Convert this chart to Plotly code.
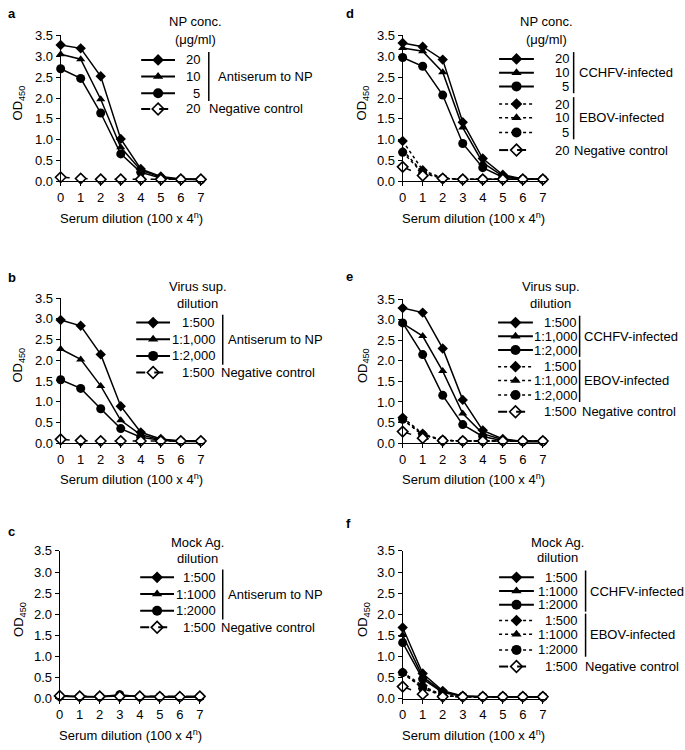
import plotly.graph_objects as go

W, H = 685, 750
FONT = "Liberation Sans, Arial, Helvetica, sans-serif"

# ---------------- data ----------------
dilution = [0, 1, 2, 3, 4, 5, 6, 7]

a_np20 = [3.27, 3.19, 2.52, 1.02, 0.30, 0.12, 0.06, 0.05]
a_np10 = [3.05, 2.93, 1.97, 0.82, 0.27, 0.10, 0.05, 0.05]
a_np5 = [2.70, 2.47, 1.64, 0.66, 0.22, 0.08, 0.05, 0.04]
a_neg = [0.10, 0.07, 0.05, 0.05, 0.05, 0.05, 0.05, 0.05]

b_500 = [2.97, 2.83, 2.14, 0.89, 0.26, 0.10, 0.05, 0.05]
b_1000 = [2.27, 2.02, 1.38, 0.55, 0.20, 0.08, 0.05, 0.05]
b_2000 = [1.53, 1.32, 0.83, 0.35, 0.14, 0.07, 0.04, 0.04]
b_neg = [0.09, 0.06, 0.05, 0.05, 0.05, 0.05, 0.05, 0.05]

c_500 = [0.07, 0.05, 0.05, 0.07, 0.06, 0.05, 0.05, 0.05]
c_1000 = [0.06, 0.05, 0.05, 0.08, 0.05, 0.05, 0.04, 0.05]
c_2000 = [0.06, 0.05, 0.05, 0.10, 0.05, 0.05, 0.04, 0.05]
c_neg = [0.07, 0.06, 0.06, 0.06, 0.06, 0.05, 0.05, 0.06]

d_cchf20 = [3.32, 3.23, 2.92, 1.42, 0.55, 0.16, 0.06, 0.05]
d_cchf10 = [3.20, 3.12, 2.62, 1.29, 0.45, 0.13, 0.06, 0.05]
d_cchf5 = [2.97, 2.76, 2.07, 0.91, 0.33, 0.10, 0.05, 0.05]
d_ebov20 = [0.97, 0.27, 0.08, 0.05, 0.05, 0.05, 0.05, 0.05]
d_ebov10 = [0.75, 0.22, 0.08, 0.05, 0.05, 0.05, 0.05, 0.05]
d_ebov5 = [0.70, 0.20, 0.07, 0.05, 0.05, 0.05, 0.05, 0.05]
d_neg = [0.35, 0.14, 0.07, 0.05, 0.05, 0.05, 0.05, 0.05]

e_cchf500 = [3.28, 3.17, 2.30, 1.05, 0.31, 0.10, 0.04, 0.04]
e_cchf1000 = [2.91, 2.60, 1.75, 0.72, 0.23, 0.08, 0.04, 0.04]
e_cchf2000 = [2.92, 2.15, 1.16, 0.45, 0.16, 0.06, 0.04, 0.04]
e_ebov500 = [0.62, 0.23, 0.07, 0.05, 0.05, 0.05, 0.05, 0.05]
e_ebov1000 = [0.57, 0.20, 0.07, 0.05, 0.05, 0.05, 0.05, 0.05]
e_ebov2000 = [0.58, 0.20, 0.07, 0.05, 0.05, 0.05, 0.05, 0.05]
e_neg = [0.28, 0.12, 0.06, 0.05, 0.05, 0.05, 0.05, 0.05]

f_cchf500 = [1.69, 0.60, 0.19, 0.07, 0.05, 0.05, 0.05, 0.05]
f_cchf1000 = [1.51, 0.52, 0.17, 0.06, 0.05, 0.05, 0.05, 0.05]
f_cchf2000 = [1.33, 0.47, 0.15, 0.06, 0.05, 0.05, 0.05, 0.05]
f_ebov500 = [0.63, 0.31, 0.08, 0.05, 0.05, 0.05, 0.05, 0.05]
f_ebov1000 = [0.60, 0.28, 0.08, 0.05, 0.05, 0.05, 0.05, 0.05]
f_ebov2000 = [0.62, 0.25, 0.07, 0.05, 0.05, 0.05, 0.05, 0.05]
f_neg = [0.29, 0.11, 0.05, 0.05, 0.05, 0.05, 0.05, 0.05]

a_labels = ["20", "10", "5", "20"]
b_labels = ["1:500", "1:1,000", "1:2,000", "1:500"]
c_labels = ["1:500", "1:1000", "1:2000", "1:500"]
d_labels = ["20", "10", "5", "20", "10", "5", "20"]
e_labels = ["1:500", "1:1,000", "1:2,000", "1:500", "1:1,000", "1:2,000", "1:500"]
f_labels = ["1:500", "1:1000", "1:2000", "1:500", "1:1000", "1:2000", "1:500"]

# ---------------- styles ----------------
STY = {
    "dia": dict(symbol="diamond", size=9, color="black"),
    "tri": dict(symbol="triangle-up", size=9, color="black"),
    "cir": dict(symbol="circle", size=10, color="black"),
    "neg": dict(symbol="diamond", size=9, color="white", line=dict(color="black", width=1.6)),
}

# panel geometry in pixels: x0 (value 0), x7 (value 7), y top (3.5), y bottom (0)
panels = {
    "a": dict(x0=57, x7=198, yt=29, yb=178),
    "b": dict(x0=57, x7=198, yt=297, yb=445),
    "c": dict(x0=56, x7=197, yt=555, yb=706),
    "d": dict(x0=401, x7=542, yt=29, yb=178),
    "e": dict(x0=401, x7=542, yt=298, yb=445),
    "f": dict(x0=401, x7=542, yt=555, yb=706),
}

series = {
    "a": [(a_np20, "dia", "solid"), (a_np10, "tri", "solid"), (a_np5, "cir", "solid"), (a_neg, "neg", "dash")],
    "b": [(b_500, "dia", "solid"), (b_1000, "tri", "solid"), (b_2000, "cir", "solid"), (b_neg, "neg", "dash")],
    "c": [(c_500, "dia", "solid"), (c_1000, "tri", "solid"), (c_2000, "cir", "solid"), (c_neg, "neg", "dash")],
    "d": [(d_cchf20, "dia", "solid"), (d_cchf10, "tri", "solid"), (d_cchf5, "cir", "solid"),
          (d_ebov20, "dia", "dot"), (d_ebov10, "tri", "dot"), (d_ebov5, "cir", "dot"), (d_neg, "neg", "dash")],
    "e": [(e_cchf500, "dia", "solid"), (e_cchf1000, "tri", "solid"), (e_cchf2000, "cir", "solid"),
          (e_ebov500, "dia", "dot"), (e_ebov1000, "tri", "dot"), (e_ebov2000, "cir", "dot"), (e_neg, "neg", "dash")],
    "f": [(f_cchf500, "dia", "solid"), (f_cchf1000, "tri", "solid"), (f_cchf2000, "cir", "solid"),
          (f_ebov500, "dia", "dot"), (f_ebov1000, "tri", "dot"), (f_ebov2000, "cir", "dot"), (f_neg, "neg", "dash")],
}

fig = go.Figure()
layout = dict(width=W, height=H, margin=dict(l=0, r=0, t=0, b=0), autosize=False,
              paper_bgcolor="white", plot_bgcolor="rgba(0,0,0,0)", showlegend=False,
              font=dict(family=FONT, size=13, color="black"))

XR = 7.2
for i, (key, g) in enumerate(panels.items()):
    n = "" if i == 0 else str(i + 1)
    ppu = (g["x7"] - g["x0"]) / 7.0
    xd = [g["x0"] / W, (g["x0"] + XR * ppu) / W]
    yd = [1 - g["yb"] / H, 1 - g["yt"] / H]
    layout["xaxis" + n] = dict(domain=xd, range=[0, XR], anchor="y" + n, showline=True, linecolor="black",
                               linewidth=1, ticks="outside", ticklen=4, tickcolor="black", dtick=1, tick0=0,
                               showgrid=False, zeroline=False, fixedrange=True,
                               tickfont=dict(family=FONT, size=13))
    layout["yaxis" + n] = dict(domain=yd, range=[0, 3.5], anchor="x" + n, showline=True, linecolor="black",
                               linewidth=1, ticks="outside", ticklen=4, tickcolor="black", dtick=0.5, tick0=0,
                               tickformat=".1f", showgrid=False, zeroline=False, fixedrange=True,
                               tickfont=dict(family=FONT, size=13))
    for vals, mk, dash in series[key]:
        st = STY[mk]
        fig.add_trace(go.Scatter(
            x=dilution, y=vals, xaxis="x" + n, yaxis="y" + n, mode="lines+markers", cliponaxis=False,
            line=dict(color="black", width=1.5, dash=dash),
            marker=dict(symbol=st["symbol"], size=st["size"] - 1, color=st["color"],
                        line=st.get("line", dict(width=0))),
        ))

# overlay pixel axis for legend
layout["xaxis7"] = dict(domain=[0, 1], range=[0, W], anchor="y7", visible=False, fixedrange=True)
layout["yaxis7"] = dict(domain=[0, 1], range=[H, 0], anchor="x7", visible=False, fixedrange=True)

annotations = []
shapes = []


def txt(x, y, t, xa="center", bold=False, angle=0, size=13):
    annotations.append(dict(x=x, y=y, xref="x7", yref="y7", text=("<b>%s</b>" % t) if bold else t,
                            showarrow=False, xanchor=xa, yanchor="middle", textangle=angle, borderpad=0,
                            font=dict(family=FONT, size=size, color="black")))


def legend_row(x1, x2, y, mk, dash, label, lab_right):
    st = STY[mk]
    shapes.append(dict(type="line", xref="x7", yref="y7", x0=x1, x1=x2, y0=y, y1=y,
                       line=dict(color="black", width=2 if dash != "dot" else 1.5, dash=dash)))
    fig.add_trace(go.Scatter(x=[(x1 + x2) / 2], y=[y], xaxis="x7", yaxis="y7", mode="markers",
                             cliponaxis=False,
                             marker=dict(symbol=st["symbol"], size=st["size"], color=st["color"],
                                         line=st.get("line", dict(width=0)))))
    txt(lab_right, y, label, xa="right")


# ---- panel letters, axis titles
letters = {"a": (3, 7), "b": (3, 276), "c": (3, 535), "d": (343, 7), "e": (343, 275), "f": (343, 527)}
for k, (lx, ly) in letters.items():
    txt(lx, ly, k, xa="left", bold=True)

for k, g in panels.items():
    ytx = 15 if g["x0"] < 300 else 361
    txt(ytx, (g["yt"] + g["yb"]) / 2 - 6, "OD<sub>450</sub>", angle=-90)
    txt(g["x0"] + 71, g["yb"] + 37, "Serum dilution (100 x 4<sup>n</sup>)")

mks4 = [("dia", "solid"), ("tri", "solid"), ("cir", "solid"), ("neg", "dash")]
mks7 = [("dia", "solid"), ("tri", "solid"), ("cir", "solid"), ("dia", "dot"), ("tri", "dot"), ("cir", "dot"), ("neg", "dash")]

# ---- left legends
left_leg = {
    "a": dict(title=("NP conc.", "(μg/ml)"), tx=193, ty=(15, 33), rows=[54, 71, 88, 104], lx=(138, 172),
              lr=198, bar=206, bar_y=(46, 96), gl=214, labels=a_labels, negx=205),
    "b": dict(title=("Virus sup.", "dilution"), tx=195, ty=(285, 303), rows=[322, 339, 356, 373], lx=(133, 167),
              lr=213, bar=220, bar_y=(314, 365), gl=224, labels=b_labels, negx=217),
    "c": dict(title=("Mock Ag.", "dilution"), tx=195, ty=(546, 563), rows=[582, 599, 616, 633], lx=(137, 171),
              lr=214, bar=220, bar_y=(574, 625), gl=224, labels=c_labels, negx=217),
}
for k, L in left_leg.items():
    txt(L["tx"], L["ty"][0], L["title"][0])
    txt(L["tx"], L["ty"][1], L["title"][1])
    for (mk, dash), y, lab in zip(mks4, L["rows"], L["labels"]):
        legend_row(L["lx"][0], L["lx"][1], y, mk, dash, lab, L["lr"])
    shapes.append(dict(type="line", xref="x7", yref="y7", x0=L["bar"], x1=L["bar"], y0=L["bar_y"][0],
                       y1=L["bar_y"][1], line=dict(color="black", width=1.5)))
    txt(L["gl"], L["rows"][1], "Antiserum to NP", xa="left")
    txt(L["negx"], L["rows"][3], "Negative control", xa="left")

# ---- right legends
right_leg = {
    "d": dict(title=("NP conc.", "(μg/ml)"), tx=546, ty=(15, 33), rows=[53, 67, 81, 99, 113, 128, 146],
              lx=(498, 533), lr=569, bar=573, gl=577, labels=d_labels, negx=572),
    "e": dict(title=("Virus sup.", "dilution"), tx=550, ty=(285, 303), rows=[322, 336, 350, 367, 381, 396, 413],
              lx=(497, 532), lr=577, bar=579, gl=582, labels=e_labels, negx=580),
    "f": dict(title=("Mock Ag.", "dilution"), tx=557, ty=(546, 562), rows=[582, 596, 610, 626, 640, 656, 673],
              lx=(498, 533), lr=578, bar=585, gl=588, labels=f_labels, negx=583),
}
for k, L in right_leg.items():
    txt(L["tx"], L["ty"][0], L["title"][0])
    txt(L["tx"], L["ty"][1], L["title"][1])
    for (mk, dash), y, lab in zip(mks7, L["rows"], L["labels"]):
        legend_row(L["lx"][0], L["lx"][1], y, mk, dash, lab, L["lr"])
    r = L["rows"]
    shapes.append(dict(type="line", xref="x7", yref="y7", x0=L["bar"], x1=L["bar"], y0=r[0] - 7,
                       y1=r[2] + 7, line=dict(color="black", width=1.5)))
    shapes.append(dict(type="line", xref="x7", yref="y7", x0=L["bar"], x1=L["bar"], y0=r[3] - 7,
                       y1=r[5] + 7, line=dict(color="black", width=1.5)))
    txt(L["gl"], r[1], "CCHFV-infected", xa="left")
    txt(L["gl"], r[4], "EBOV-infected", xa="left")
    txt(L["negx"], r[6], "Negative control", xa="left")

layout["annotations"] = annotations
layout["shapes"] = shapes
fig.update_layout(**layout)
fig.write_html("out.html", config={"displayModeBar": False},
               post_script="document.body.style.margin='0';document.body.style.overflow='hidden';")
